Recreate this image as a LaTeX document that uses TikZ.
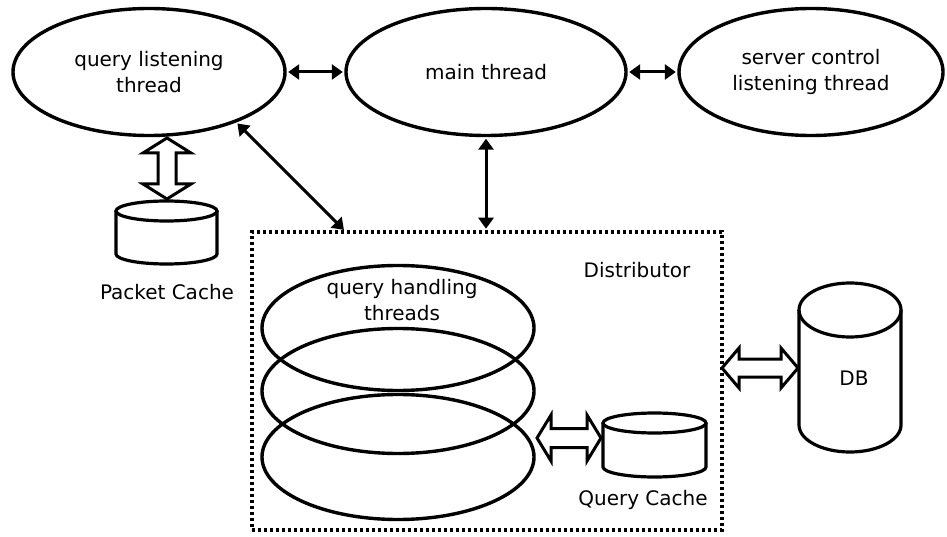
\documentclass[tikz,border=0pt]{standalone}
\usepackage{fontspec}
\setmainfont{DejaVu Sans}
\usetikzlibrary{shapes.geometric,arrows.meta}
\tikzset{
  thr/.style={ellipse, draw, line width=3.4pt, inner sep=0pt, align=center, font=\fontsize{20}{26}\selectfont},
  lbl/.style={font=\fontsize{20}{26}\selectfont, inner sep=0pt, align=center},
  conn/.style={line width=3pt, {Triangle[length=11pt,width=15pt]}-{Triangle[length=11pt,width=15pt]}, shorten <=1.5pt, shorten >=1.5pt},
  hollow/.style={draw, line width=3pt, fill=white, line join=miter},
  cyl/.style={draw, line width=3.2pt},
  distbox/.style={draw, line width=3.5pt, dash pattern=on 3.2pt off 2.8pt, inner sep=0pt, minimum width=470pt, minimum height=298pt}
}
\newcommand{\drawcyl}[5]{%
  \pgfmathsetmacro\cxx{(#1+#2)/2}\pgfmathsetmacro\rxx{(#2-#1)/2}%
  \pgfmathsetmacro\ctt{-(#3+#5)}\pgfmathsetmacro\cbb{-(#4-#5)}%
  \draw[cyl] (#1,\ctt) -- (#1,\cbb) arc[start angle=180,end angle=360,x radius=\rxx pt,y radius=#5 pt] -- (#2,\ctt);
  \draw[cyl] (\cxx,\ctt) ellipse[x radius=\rxx pt, y radius=#5 pt];
}
\newcommand{\dblarrow}[7]{%
  \begin{scope}[shift={(#1,-#2)}, rotate=#3]
  \pgfmathsetmacro\LL{#4/2}\pgfmathsetmacro\AA{#4/2-#7}%
  \draw[hollow] (-\LL,0) -- (-\AA,#5) -- (-\AA,#6) -- (\AA,#6) -- (\AA,#5) -- (\LL,0) -- (\AA,-#5) -- (\AA,-#6) -- (-\AA,-#6) -- (-\AA,-#5) -- cycle;
  \end{scope}}
\begin{document}
\begin{tikzpicture}[x=1pt,y=1pt]
\useasboundingbox (0,0) rectangle (947,-537);
% top threads
\node[thr, minimum width=272pt, minimum height=127pt] (qlt) at (149,-72) {query listening\\thread};
\node[thr, minimum width=280pt, minimum height=127pt] (main) at (486,-72) {main thread};
\node[thr, minimum width=264pt, minimum height=127pt] (scl) at (811,-72) {server control\\listening thread};
% distributor box
\node[distbox] (dist) at (487,-381) {};
\node[lbl] (distl) at (637,-270) {Distributor};
% query handling threads
\node[thr, minimum width=272pt, minimum height=125pt] (qh1) at (398,-328) {};
\node[thr, minimum width=272pt, minimum height=125pt] (qh2) at (398,-391) {};
\node[thr, minimum width=272pt, minimum height=125pt] (qh3) at (398,-457) {};
\node[lbl] (qhl) at (402,-300) {query handling\\threads};
% cylinders
\drawcyl{116}{217}{201}{264}{10}
\node[lbl] (pcl) at (167,-292) {Packet Cache};
\drawcyl{603}{706}{413}{477}{10}
\node[lbl] (qcl) at (643,-500) {Query Cache};
\drawcyl{799}{901}{283}{452}{27}
\node[lbl] (dbl) at (854,-378) {DB};
% hollow double arrows
\dblarrow{167}{168.5}{90}{61}{24}{9}{15}
\dblarrow{569}{438}{0}{64}{23}{9.5}{14}
\dblarrow{760}{368}{0}{76}{20}{9}{17}
% thin arrows
\draw[conn] (qlt) -- (main);
\draw[conn] (main) -- (scl);
\draw[conn] (main.south) -- (main.south |- dist.north);
\coordinate (dtop) at (345,-231);
\draw[conn] (qlt.-30) -- (dtop);
\end{tikzpicture}
\end{document}
